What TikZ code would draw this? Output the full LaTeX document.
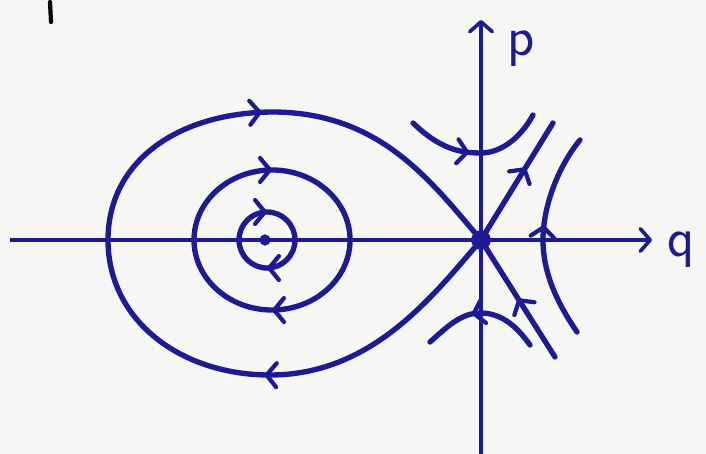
\documentclass[tikz,border=0pt]{standalone}
\usepackage{tikz}
\usetikzlibrary{arrows.meta,decorations.markings}
\definecolor{ink}{RGB}{30,26,150}
\definecolor{paper}{RGB}{246,246,244}
\tikzset{
  axisline/.style={draw=ink,line width=2.6pt,-{Straight Barb[length=7pt,width=16pt,line width=2.6pt,round]}},
  orbit/.style={draw=ink,line width=3.8pt,line cap=round},
  flow/.style={postaction={decorate,decoration={markings,
    mark=at position #1 with {\arrow[ink,line width=3pt]{Straight Barb[length=7pt,width=17pt,round]}}}}},
  fixpt/.style={circle,fill=ink,inner sep=0pt,minimum size=#1},
  axislabel/.style={text=ink,font=\sffamily\fontsize{40}{40}\selectfont,inner sep=0pt}
}

\begin{document}
\begin{tikzpicture}[x=0.025cm,y=0.025cm]
  \fill[paper] (0,0) rectangle (706,454);
  \useasboundingbox (0,0) rectangle (706,454);
  % axes
  \coordinate (qstart) at (10,214);
  \coordinate (qend) at (652,214);
  \coordinate (pstart) at (481,0);
  \coordinate (pend) at (481,434);
  \draw[axisline] (qstart) -- (qend);
  \draw[axisline] (pstart) -- (pend);
  \node[axislabel] (qlabel) at (681,204) {q};
  \node[axislabel] (plabel) at (521,405) {p};
  % fixed points
  \node[fixpt=14pt] (saddle) at (481,214) {};
  \node[fixpt=8pt] (centre) at (265,214) {};
  % closed orbits round the centre
  \draw[orbit,flow=0.25,flow=0.75] (239,214)
    arc[start angle=180,end angle=-180,radius=0.7cm];
  \draw[orbit,flow=0.25,flow=0.75] (194,214)
    arc[start angle=180,end angle=-180,x radius=1.95cm,y radius=1.75cm];
  % homoclinic loop
  \draw[orbit,flow=0.27,flow=0.73] (saddle.center)
    .. controls (430,154) and (370,79) .. (270,79)
    .. controls (180,79) and (108,134) .. (108,214)
    .. controls (108,294) and (180,342) .. (274,342)
    .. controls (380,341) and (430,274) .. (saddle.center);
  % separatrices
  \coordinate (outend) at (553,331);
  \coordinate (instart) at (555,97);
  \draw[orbit,flow=0.62] (saddle.center) -- (outend);
  \draw[orbit,flow=0.5] (instart) -- (saddle.center);
  % hyperbolic orbits
  \draw[orbit,flow=0.45] (413,331) .. controls (440,305) and (460,301) .. (481,301)
    .. controls (500,301) and (520,315) .. (533,339);
  \draw[orbit,flow=0.55] (577,122) .. controls (558,150) and (543,180) .. (543,214)
    .. controls (543,250) and (560,290) .. (580,314);
  \draw[orbit,flow=0.58] (530,109) .. controls (515,130) and (500,141) .. (480,141)
    .. controls (460,141) and (445,125) .. (430,112);
  % stray pen stroke
  \draw[line width=3pt,line cap=round] (50,452) -- (51,432);
\end{tikzpicture}
\end{document}
